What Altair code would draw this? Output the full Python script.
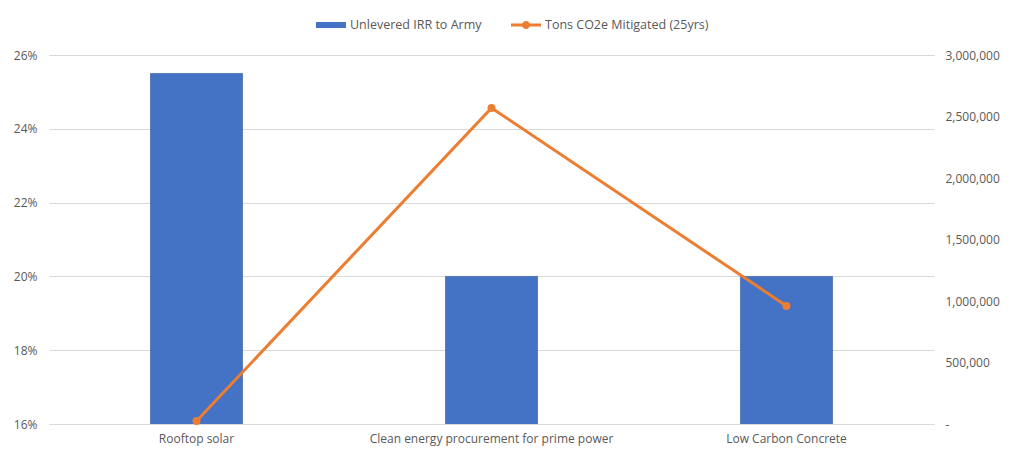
import altair as alt
import pandas as pd

categories = ["Rooftop solar", "Clean energy procurement for prime power", "Low Carbon Concrete"]
irr = [0.255, 0.20, 0.20]
tons = [24000, 2570000, 960000]
bar_series = "Unlevered IRR to Army"
line_series = "Tons CO2e Mitigated (25yrs)"
left_ticks = [0.16, 0.18, 0.20, 0.22, 0.24, 0.26]
right_ticks = [0, 500000, 1000000, 1500000, 2000000, 2500000, 3000000]

df = pd.DataFrame({"cat": categories, "irr": irr, "tons": tons})
df["s1"] = bar_series
df["s2"] = line_series

FONT = "Open Sans"
GRAY = "#595959"
BLUE = "#4472C4"
ORANGE = "#ED7D31"

x = alt.X(
    "cat:N", sort=categories, title=None,
    scale=alt.Scale(paddingInner=0.688, paddingOuter=0.344),
    axis=alt.Axis(labelAngle=0, ticks=False, domainColor="#d9d9d9", labelPadding=9, labelLimit=0),
)

bars = alt.Chart(df).mark_bar(clip=True, stroke="#2F5597", strokeWidth=0.6).encode(
    x=x,
    y=alt.Y("irr:Q", title=None,
            scale=alt.Scale(domain=[0.16, 0.26], zero=False, nice=False),
            axis=alt.Axis(format=".0%", values=left_ticks, grid=True, gridColor="#d9d9d9",
                          domain=False, ticks=False, labelPadding=12)),
    fill=alt.Fill("s1:N", scale=alt.Scale(range=[BLUE]),
                  legend=alt.Legend(title=None, orient="none", legendX=267, legendY=-45,
                                    symbolType="M-1,-0.2L1,-0.2L1,0.2L-1,0.2Z", symbolSize=900,
                                    symbolStrokeWidth=0, labelOffset=4, labelLimit=0)),
)

line = alt.Chart(df).mark_line(
    strokeWidth=3,
    point=alt.OverlayMarkDef(size=64, filled=True, color=ORANGE),
).encode(
    x=x,
    y=alt.Y("tons:Q", title=None,
            scale=alt.Scale(domain=[0, 3000000], nice=False),
            axis=alt.Axis(orient="right", values=right_ticks, grid=False, domain=False, ticks=False,
                          labelPadding=11,
                          labelExpr="datum.value == 0 ? '-' : format(datum.value, ',')")),
    color=alt.Color("s2:N", scale=alt.Scale(range=[ORANGE]),
                    legend=alt.Legend(title=None, orient="none", legendX=462, legendY=-45,
                                      symbolType="M-1,-0.1L1,-0.1L1,0.1L-1,0.1Z M0.27,0 A0.27,0.27 0 1,1 -0.27,0 A0.27,0.27 0 1,1 0.27,0 Z",
                                      symbolSize=900, symbolFillColor=ORANGE, symbolStrokeWidth=0,
                                      labelOffset=4, labelLimit=0)),
)

chart = alt.layer(bars, line).resolve_scale(y="independent", color="independent", fill="independent").properties(
    width=885, height=369,
    autosize=alt.AutoSizeParams(type="none"),
    padding={"left": 41, "top": 47, "right": 80, "bottom": 30},
).configure_view(stroke=None).configure_axis(
    labelFont=FONT, labelFontSize=12, labelColor=GRAY,
).configure_legend(
    labelFont=FONT, labelFontSize=12.5, labelColor=GRAY,
)

chart.save("out.html", embed_options={"renderer": "svg", "actions": False})
